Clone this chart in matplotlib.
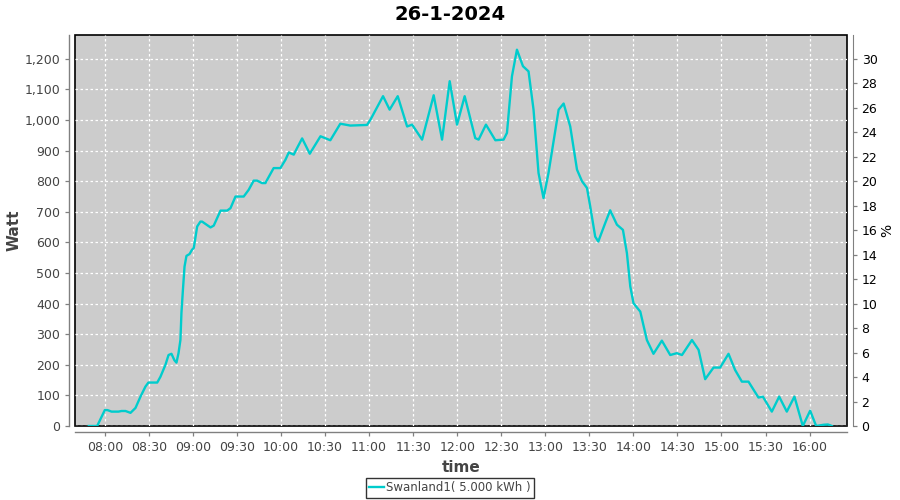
import matplotlib
matplotlib.use("Agg")
import matplotlib.pyplot as plt
from matplotlib.ticker import FuncFormatter, MultipleLocator

# ============================================================
# data
# ============================================================

title = "26-1-2024"
series_name = "Swanland1( 5.000 kWh )"

# minutes since 08:00
minutes = [
    -10.9, -5.2, 0.0, 1.8, 4.6, 9.3, 11.4, 14.1, 17.5, 20.9,
    24.3, 27.7, 29.7, 35.7, 37.9, 41.3, 43.4, 45.4, 47.4, 48.8,
    50.2, 51.5, 52.2, 53.2, 54.3, 55.6, 57.7, 59.4, 60.6, 62.9,
    65.1, 66.3, 72.0, 74.2, 78.8, 83.3, 85.6, 89.0, 94.6, 98.0,
    101.4, 103.7, 107.1, 109.4, 110.6, 115.0, 119.6, 123.0, 125.3, 128.7,
    131.0, 134.4, 139.6, 146.9, 153.6, 160.4, 167.2, 178.6, 180.9, 189.5,
    194.0, 199.5, 205.9, 209.3, 216.1, 224.0, 229.7, 234.9, 239.9, 245.1,
    252.3, 254.6, 259.6, 266.0, 271.6, 273.9, 277.3, 280.7, 284.8, 288.6,
    292.0, 295.4, 298.8, 302.2, 309.1, 312.5, 317.0, 321.6, 325.0, 328.4,
    330.6, 334.0, 336.1, 340.8, 344.2, 348.8, 352.9, 355.6, 357.9, 360.1,
    364.7, 369.2, 373.7, 379.4, 385.1, 389.6, 393.1, 399.9, 404.4, 408.9,
    414.6, 419.1, 424.8, 429.3, 433.9, 438.4, 445.2, 448.2, 454.3, 459.3,
    464.5, 469.7, 475.4, 480.4, 484.5, 489.5, 492.5, 495.2,
]

watt = [
    0, 0, 52, 52, 47, 47, 49, 49, 43, 59,
    96, 129, 142, 142, 161, 200, 232, 236, 215, 207,
    238, 281, 370, 445, 521, 556, 562, 576, 582, 652,
    668, 668, 649, 655, 704, 704, 712, 750, 750, 772,
    802, 802, 794, 794, 805, 843, 843, 870, 894, 887,
    909, 940, 890, 947, 934, 988, 982, 984, 1001, 1078,
    1034, 1078, 979, 985, 936, 1081, 936, 1127, 985, 1078,
    941, 936, 985, 934, 936, 958, 1143, 1230, 1176, 1159,
    1034, 827, 745, 827, 1034, 1054, 979, 838, 800, 778,
    718, 619, 603, 663, 705, 658, 641, 565, 456, 401,
    374, 281, 236, 279, 232, 238, 232, 281, 249, 153,
    191, 191, 236, 183, 145, 145, 93, 96, 47, 96,
    47, 96, 0, 50, 0, 4, 5, 0,
]

tick_labels = [
    "08:00", "08:30", "09:00", "09:30", "10:00", "10:30", "11:00", "11:30",
    "12:00", "12:30", "13:00", "13:30", "14:00", "14:30", "15:00", "15:30", "16:00",
]

# ============================================================
# figure
# ============================================================

plt.rcParams["font.family"] = ["DejaVu Sans"]

grey = "#808080"
text_grey = "#444444"

fig = plt.figure(figsize=(9, 5), dpi=100)
ax = fig.add_axes([75 / 900, 1 - 426 / 500, 772 / 900, 391 / 500])

ax.set_facecolor("#cccccc")
ax.patch.set_edgecolor("black")
ax.patch.set_linewidth(1.2)

ax.plot(minutes, watt, color="#00cccc", linewidth=1.7, label=series_name,
        zorder=3, solid_joinstyle="round")

ax.set_xlim(-20.3, 505.5)
ax.set_ylim(0, 1278)

tick_pos = [int(t[:2]) * 60 + int(t[3:]) - 480 for t in tick_labels]
ax.set_xticks(tick_pos)
ax.set_xticklabels(tick_labels)
ax.yaxis.set_major_locator(MultipleLocator(100))
ax.yaxis.set_major_formatter(FuncFormatter(lambda v, p: f"{v:,.0f}"))

ax.grid(True, color="white", linestyle=(0, (2, 2)), linewidth=0.9)
ax.set_axisbelow(True)

for side in ["top", "right"]:
    ax.spines[side].set_visible(False)
for side in ["left", "bottom"]:
    ax.spines[side].set_position(("outward", 4))
    ax.spines[side].set_color(grey)
    ax.spines[side].set_linewidth(1.0)

ax.tick_params(axis="both", direction="out", length=3, width=0.9,
               color=grey, labelcolor=text_grey, labelsize=9)

ax.set_xlabel("time", fontsize=11, fontweight="bold", color=text_grey)
ax.xaxis.set_label_coords(0.5, -(460 - 426) / 391)
ax.set_ylabel("Watt", fontsize=11, fontweight="bold", color=text_grey)
ax.yaxis.set_label_coords(-(75 - 22) / 772, 0.5)

# ------------------------------------------------------------
# right axis (%)
# ------------------------------------------------------------
ax2 = ax.twinx()
ax2.set_ylim(0, 1278 / 40)
ax2.yaxis.set_major_locator(MultipleLocator(2))
for side in ["top", "left", "bottom"]:
    ax2.spines[side].set_visible(False)
ax2.spines["right"].set_position(("outward", 4))
ax2.spines["right"].set_color(grey)
ax2.tick_params(axis="y", direction="out", length=3, width=0.9,
                color=grey, labelcolor="black", labelsize=9)
ax2.set_ylabel("%", fontsize=10, color="black")
ax2.yaxis.set_label_coords((880 - 75) / 772, 0.5)

# ------------------------------------------------------------
# title and legend
# ------------------------------------------------------------
fig.text(0.5, 1 - 14 / 500, title, ha="center", va="center",
         fontsize=14, fontweight="bold")

handles, labels = ax.get_legend_handles_labels()
leg = fig.legend(handles, labels, loc="center", bbox_to_anchor=(0.5, 1 - 488 / 500),
                 frameon=True, fancybox=False, fontsize=8.5, handlelength=1.2,
                 handletextpad=0.2, borderpad=0.3, borderaxespad=0)
leg.get_frame().set_edgecolor("black")
leg.get_frame().set_linewidth(1.0)
for t in leg.get_texts():
    t.set_color(text_grey)

fig.savefig("out.png", dpi=100)
